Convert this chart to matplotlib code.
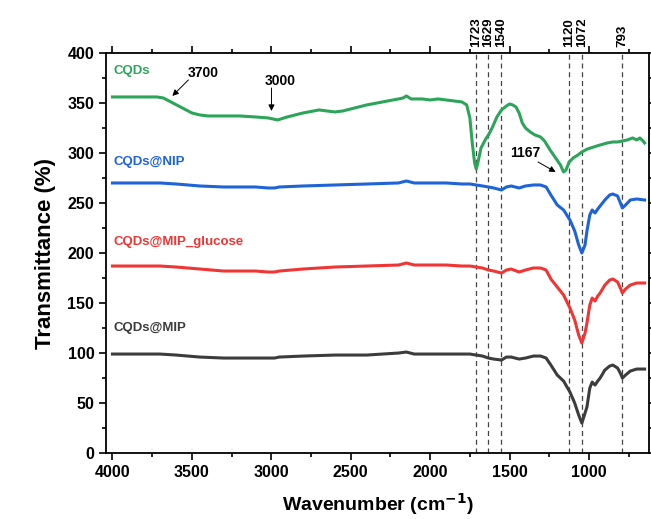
import matplotlib
matplotlib.use('Agg')
import matplotlib.pyplot as plt
from matplotlib.ticker import MultipleLocator

plt.rcParams['font.family'] = ['Liberation Sans', 'DejaVu Sans']
plt.rcParams['font.weight'] = 'bold'

# CQDs (green)
wn_cqd = [4000, 3900, 3800, 3720, 3680, 3620, 3560, 3500, 3450, 3400, 3300, 3200, 3100, 3020, 2960,
          2900, 2800, 2700, 2650, 2600, 2550, 2500, 2400, 2300, 2200, 2170, 2150, 2120, 2050, 2000,
          1950, 1900, 1850, 1800, 1770, 1750, 1735, 1720, 1710, 1700, 1680, 1650, 1633, 1610, 1580,
          1551, 1520, 1500, 1480, 1460, 1440, 1420, 1400, 1370, 1340, 1305, 1280, 1245, 1210, 1180,
          1160, 1145, 1125, 1100, 1070, 1045, 1010, 970, 930, 885, 850, 820, 790, 760, 725, 700,
          680, 660, 650]
t_cqd = [356, 356, 356, 356, 355, 350, 345, 340, 338, 337, 337, 337, 336, 335, 333,
         336, 340, 343, 342, 341, 342, 344, 348, 351, 354, 355, 357, 354, 354, 353,
         354, 353, 352, 351, 348, 335, 310, 290, 284, 290, 305, 314, 318, 325, 336,
         343, 347, 349, 348, 346, 340, 330, 325, 321, 318, 316, 312, 303, 295, 288,
         281, 283, 291, 295, 298, 301, 304, 306, 308, 310, 311, 311, 312, 313, 315, 313,
         315, 312, 310]

# shared wavenumber grid for the polymer samples
wn_poly = [4000, 3800, 3700, 3600, 3450, 3300, 3100, 3020, 2980, 2950, 2800, 2600, 2400, 2200, 2150,
           2100, 2000, 1900, 1800, 1750, 1710, 1670, 1633, 1600, 1551, 1520, 1490, 1440, 1400, 1350,
           1305, 1270, 1240, 1200, 1160, 1120, 1090, 1065, 1045, 1025, 1013, 995, 980, 962, 945,
           930, 900, 870, 850, 820, 800, 790, 770, 740, 700, 650]
t_nip = [270, 270, 270, 269, 267, 266, 266, 265, 265, 266, 267, 268, 269, 270, 272,
         270, 270, 270, 269, 269, 268, 267, 266, 265, 263, 266, 267, 265, 267, 268,
         268, 266, 258, 248, 243, 233, 222, 208, 200, 208, 222, 238, 243, 240, 244,
         247, 253, 258, 259, 257, 249, 245, 248, 253, 254, 253]
t_mip_glu = [187, 187, 187, 186, 184, 182, 182, 181, 181, 182, 184, 186, 187, 188, 190,
             188, 188, 188, 187, 187, 186, 185, 183, 182, 180, 183, 184, 181, 183, 185,
             185, 183, 174, 166, 158, 145, 133, 118, 110, 120, 130, 148, 155, 152, 157,
             160, 168, 173, 174, 171, 164, 160, 164, 168, 170, 170]
t_mip = [99, 99, 99, 98, 96, 95, 95, 95, 95, 96, 97, 98, 98, 100, 101,
         99, 99, 99, 99, 99, 98, 97, 95, 94, 93, 96, 96, 94, 95, 97,
         97, 95, 88, 78, 72, 61, 50, 38, 30, 40, 46, 65, 71, 68, 72,
         75, 83, 87, 88, 85, 79, 75, 78, 82, 84, 84]

peak_pos = [1710, 1633, 1551, 1127, 1044, 791]
peak_labels = ['1723', '1629', '1540', '1120', '1072', '793']

green = '#2ca55a'
blue = '#1f63d8'
red = '#f03535'
gray = '#3c3c3c'

fig = plt.figure(figsize=(6.51, 5.19), dpi=100)
ax = fig.add_axes([0.163, 0.127, 0.834, 0.771])

for p in peak_pos:
    ax.axvline(p, color='#444444', lw=0.9, ls=(0, (4, 3)), zorder=1)

ax.plot(wn_cqd, t_cqd, color=green, lw=2.2, zorder=3)
ax.plot(wn_poly, t_nip, color=blue, lw=2.2, zorder=3)
ax.plot(wn_poly, t_mip_glu, color=red, lw=2.2, zorder=3)
ax.plot(wn_poly, t_mip, color=gray, lw=2.2, zorder=3)

ax.set_xlim(4040, 622)
ax.set_ylim(0, 400)

for p, lab in zip(peak_pos, peak_labels):
    ax.text(p, 406, lab, rotation=90, ha='center', va='bottom', fontsize=9.5, fontweight='bold')

ax.text(3995, 382, 'CQDs', color=green, fontsize=9.5, fontweight='bold', va='center')
ax.text(3995, 291, 'CQDs@NIP', color=blue, fontsize=9.5, fontweight='bold', va='center')
ax.text(3995, 211, 'CQDs@MIP_glucose', color=red, fontsize=9.5, fontweight='bold', va='center')
ax.text(3995, 125, 'CQDs@MIP', color=gray, fontsize=9.5, fontweight='bold', va='center')

arrow = dict(arrowstyle='-|>', color='black', lw=0.7, mutation_scale=9, shrinkA=0, shrinkB=0)
ax.text(3428, 380, '3700', fontsize=10, fontweight='bold', ha='center', va='center')
ax.annotate('', xy=(3623, 357), xytext=(3522, 373), arrowprops=arrow)
ax.text(2943, 372, '3000', fontsize=10, fontweight='bold', ha='center', va='center')
ax.annotate('', xy=(2999, 342), xytext=(2999, 365), arrowprops=arrow)
ax.text(1403, 300, '1167', fontsize=10, fontweight='bold', ha='center', va='center')
ax.annotate('', xy=(1210, 281), xytext=(1321, 291), arrowprops=arrow)

ax.xaxis.set_major_locator(MultipleLocator(500))
ax.xaxis.set_minor_locator(MultipleLocator(250))
ax.yaxis.set_major_locator(MultipleLocator(50))
ax.yaxis.set_minor_locator(MultipleLocator(25))
ax.tick_params(which='both', direction='out', width=1.2, top=True, right=True, labelsize=11.5)
ax.tick_params(which='major', length=5)
ax.tick_params(which='minor', length=3)
for lbl in ax.get_xticklabels() + ax.get_yticklabels():
    lbl.set_fontweight('bold')
for s in ax.spines.values():
    s.set_linewidth(1.3)

ax.set_xlabel('Wavenumber (cm$^{\\mathbf{-1}}$)', fontsize=14, fontweight='bold', labelpad=8)
ax.set_ylabel('Transmittance (%)', fontsize=16, fontweight='bold', labelpad=8)

fig.savefig('out.png', dpi=100)
